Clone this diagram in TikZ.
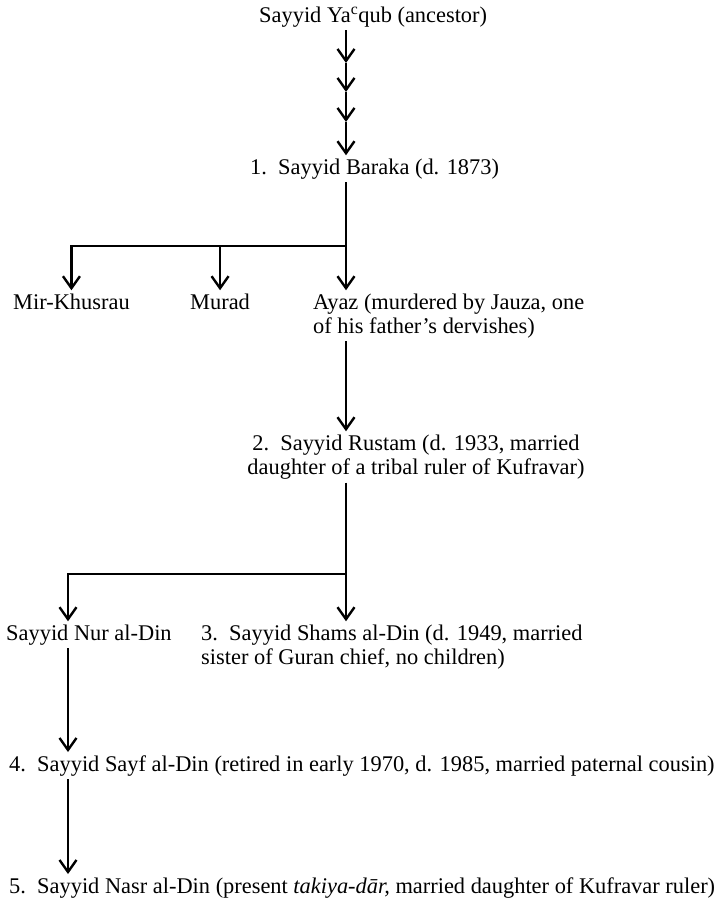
\documentclass[tikz,border=0pt]{standalone}
\usepackage{fontspec}
\setmainfont{Liberation Serif}
\usetikzlibrary{arrows.meta}

\begin{document}
\begin{tikzpicture}[x=1pt, y=-1pt,
    every node/.style={font=\fontsize{22.4}{24.5}\selectfont, inner sep=3pt},
    arr/.style={line width=2.4pt, -{Straight Barb[length=12pt, width=17pt, line width=2.4pt]}},
    ln/.style={line width=2.4pt}]

  \useasboundingbox (0,0) rectangle (726,900);

  % Define trunk and left column
  \def\tx{346}
  \def\lx{68}

  % Names
  \node[anchor=base west] (anc) at (256,22) {Sayyid Ya\textsuperscript{c}qub (ancestor)};
  \node[anchor=base west] (baraka) at (247,174) {1.\ \ Sayyid Baraka (d. 1873)};
  \node[anchor=base west] (khusrau) at (10,309) {Mir-Khusrau};
  \node[anchor=base west] (murad) at (187,309) {Murad};
  \node[anchor=base west, align=left] (ayaz) at (310,333.5)
    {Ayaz (murdered by Jauza, one\\of his father's dervishes)};
  \node[anchor=base, align=center] (rustam) at (416,474.5)
    {2.\ \ Sayyid Rustam (d. 1933, married\\daughter of a tribal ruler of Kufravar)};
  \node[anchor=base west] (nur) at (3,640) {Sayyid Nur al-Din};
  \node[anchor=base west, align=left] (shams) at (198,664.5)
    {3.\ \ Sayyid Shams al-Din (d. 1949, married\\sister of Guran chief, no children)};
  \node[anchor=base west] (sayf) at (6,771)
    {4.\ \ Sayyid Sayf al-Din (retired in early 1970, d. 1985, married paternal cousin)};
  \node[anchor=base west] (nasr) at (6,893)
    {5.\ \ Sayyid Nasr al-Din (present \textit{takiya-dār,} married daughter of Kufravar ruler)};

  % Ancestor line
  \coordinate (c1) at (\tx,63);
  \coordinate (c2) at (\tx,92);
  \coordinate (c3) at (\tx,122);
  \draw[arr] (anc.south -| c1) -- (c1);
  \draw[arr] (c1) -- (c2);
  \draw[arr] (c2) -- (c3);
  \draw[arr] (c3) -- (baraka.north -| c1);

  % Sons of Baraka
  \coordinate (b1) at (\tx,246);
  \draw[ln] (baraka.south -| b1) -- (b1);
  \draw[arr] (b1) -| (khusrau.north);
  \draw[arr] (b1 -| murad.north) -- (murad.north);
  \draw[arr] (b1) -- (ayaz.north -| b1);
  \draw[arr] (ayaz.south -| b1) -- (rustam.north -| b1);

  % Sons of Rustam
  \coordinate (b2) at (\tx,574);
  \coordinate (l2) at (\lx,574);
  \draw[ln] (rustam.south -| b2) -- (b2);
  \draw[arr] (b2) -- (l2) -- (nur.north -| l2);
  \draw[arr] (b2) -- (shams.north -| b2);

  % Later line
  \draw[arr] (nur.south -| l2) -- (sayf.north -| l2);
  \draw[arr] (sayf.south -| l2) -- (nasr.north -| l2);

\end{tikzpicture}
\end{document}
